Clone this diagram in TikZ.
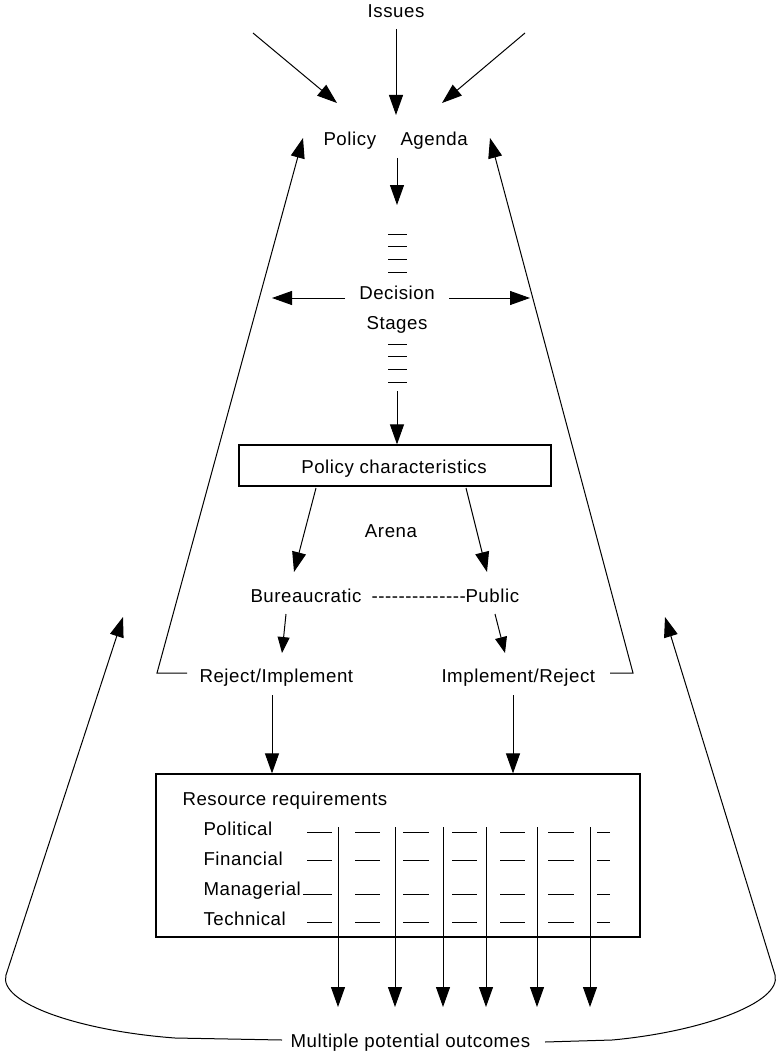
\documentclass[tikz,border=0pt]{standalone}
\usepackage{fontspec}
\setmainfont[LetterSpace=3]{Liberation Sans}
\usetikzlibrary{arrows.meta}
\begin{document}
\begin{tikzpicture}[x=0.75pt,y=-0.75pt,line width=0.75pt,
  lbl/.style={inner sep=0pt,anchor=base,font=\fontsize{14pt}{17pt}\selectfont},
  lblw/.style={lbl,anchor=base west},
  arr/.style={-{Triangle[length=15pt,width=10.5pt]}},
  sarr/.style={-{Triangle[length=12pt,width=9pt]}},
  boxed/.style={draw,line width=0.9pt,inner sep=0pt},
  tick/.style={line width=0.65pt}]
\useasboundingbox (0,0) rectangle (778,1052);
% texts
\node[lbl] (issues) at (396,18) {Issues};
\node[lblw] (policy) at (323,146) {Policy};
\node[lblw] (agenda) at (400,146) {Agenda};
\node[lbl] (decision) at (397,299) {Decision};
\node[lbl] (stages) at (397,329) {Stages};
\node[boxed,minimum width=234pt,minimum height=30.75pt] (pcbox) at (395,465.5) {};
\node[lbl] (pc) at (394,473) {Policy characteristics};
\node[lbl] (arena) at (391,537) {Arena};
\node[lblw] (bur) at (250,602) {Bureaucratic};
\node[lblw] (hy) at (371,602) {-{}-{}-{}-{}-{}-{}-{}-{}-{}-{}-{}-{}-{}-};
\node[lblw] (pub) at (465,602) {Public};
\node[lblw] (rej) at (199,682) {Reject/Implement};
\node[lblw] (imp) at (441,682) {Implement/Reject};
\node[boxed,minimum width=363pt,minimum height=122.25pt] (rbox) at (398,855.5) {};
\node[lblw] (rr) at (182,805) {Resource requirements};
\node[lblw] (pol) at (203,835) {Political};
\node[lblw] (fin) at (203,865) {Financial};
\node[lblw] (man) at (203,895) {Managerial};
\node[lblw] (tec) at (203,925) {Technical};
\node[lblw] (out) at (290,1047) {Multiple potential outcomes};
% issues arrows
\coordinate (iL) at (253,33); \coordinate (iLe) at (337,103);
\coordinate (iM) at (396,29); \coordinate (iMe) at (396,115);
\coordinate (iR) at (525,33); \coordinate (iRe) at (442,103);
\draw[arr] (iL) -- (iLe);
\draw[arr] (iM) -- (iMe);
\draw[arr] (iR) -- (iRe);
% agenda to decision
\coordinate (a1) at (397,158); \coordinate (a2) at (397,205);
\draw[arr] (a1) -- (a2);
\foreach \y in {234,246,259,272,344,356,369,382}
  \draw[tick] (388,\y) -- (407,\y);
\coordinate (s1) at (397,391);
\draw[arr] (s1) -- (s1 |- pcbox.north);
\coordinate (dL) at (345,298); \coordinate (dLe) at (272,298);
\coordinate (dR) at (449,298); \coordinate (dRe) at (530,298);
\draw[arr] (dL) -- (dLe);
\draw[arr] (dR) -- (dRe);
% characteristics to arenas
\coordinate (c1) at (316,488); \coordinate (c1e) at (294,572);
\coordinate (c2) at (466,488); \coordinate (c2e) at (487,572);
\draw[arr] (c1) -- (c1e);
\draw[arr] (c2) -- (c2e);
\coordinate (b1) at (286,614); \coordinate (b1e) at (282,653);
\coordinate (b2) at (495,614); \coordinate (b2e) at (505,653);
\draw[sarr] (b1) -- (b1e);
\draw[sarr] (b2) -- (b2e);
% feedback to agenda
\coordinate (fL0) at (187,673); \coordinate (fL1) at (157,673); \coordinate (fL2) at (303,138);
\coordinate (fR0) at (610,673); \coordinate (fR1) at (633,673); \coordinate (fR2) at (490,138);
\draw[arr] (fL0) -- (fL1) -- (fL2);
\draw[arr] (fR0) -- (fR1) -- (fR2);
% to resource box
\coordinate (r1) at (272,695);
\coordinate (r2) at (513,695);
\draw[arr] (r1) -- (r1 |- rbox.north);
\draw[arr] (r2) -- (r2 |- rbox.north);
% dashes in the box
\foreach \y in {832,860,894,922}{
  \foreach \a/\b in {355/380,403/429,452/477,500/525,548/574,597/610}
    \draw[tick] (\a,\y) -- (\b,\y);
}
\draw[tick] (307,832) -- (332,832);
\draw[tick] (307,860) -- (332,860);
\draw[tick] (303,894) -- (332,894);
\draw[tick] (307,922) -- (332,922);
% outcome arrows
\foreach \x in {338,395,443,486,537,590}
  \draw[arr] (\x,827) -- (\x,1007);
% big loops
\coordinate (oL) at (282,1040); \coordinate (oLe) at (123,617);
\coordinate (oR) at (545,1042); \coordinate (oRe) at (665,617);
\draw[arr] (oL) -- (175,1038) .. controls (80,1031) and (-2,1003) .. (6,975) -- (oLe);
\draw[arr] (oR) -- (612,1040) .. controls (700,1032) and (782,1003) .. (775,975) -- (oRe);
\end{tikzpicture}
\end{document}
